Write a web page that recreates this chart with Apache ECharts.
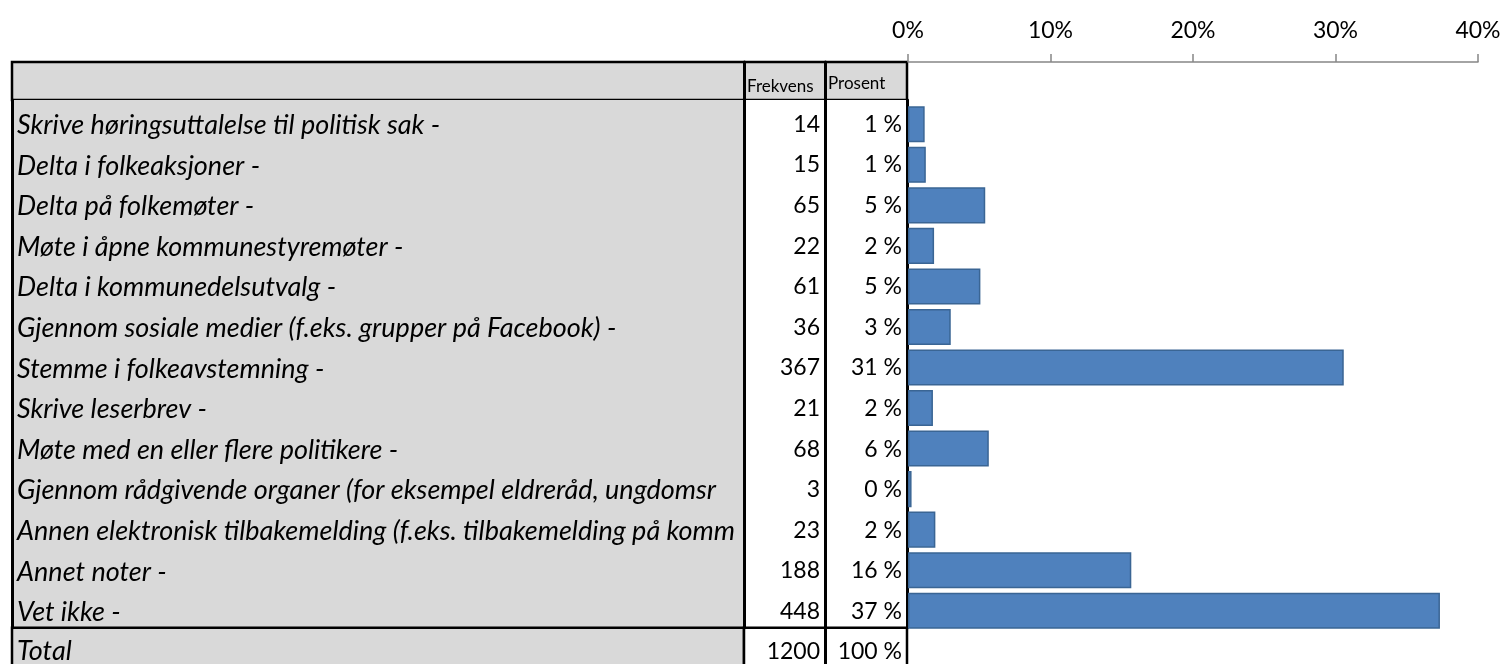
<!DOCTYPE html>
<html>
<head>
<meta charset="utf-8">
<script src="https://cdn.jsdelivr.net/npm/echarts@6/dist/echarts.min.js"></script>
<style>
  html, body { margin: 0; padding: 0; background: #ffffff; }
  #chart { width: 1504px; height: 664px; }
</style>
</head>
<body>
<div id="chart"></div>
<script>
// Survey answers: how respondents would take part in local decisions
const categories = [
  'Skrive høringsuttalelse til politisk sak -',
  'Delta i folkeaksjoner -',
  'Delta på folkemøter -',
  'Møte i åpne kommunestyremøter -',
  'Delta i kommunedelsutvalg -',
  'Gjennom sosiale medier (f.eks. grupper på Facebook) -',
  'Stemme i folkeavstemning -',
  'Skrive leserbrev -',
  'Møte med en eller flere politikere -',
  'Gjennom rådgivende organer (for eksempel eldreråd, ungdomsråd, brukerråd) -',
  'Annen elektronisk tilbakemelding (f.eks. tilbakemelding på kommunens nettside) -',
  'Annet noter -',
  'Vet ikke -'
];
const frequencies = [14, 15, 65, 22, 61, 36, 367, 21, 68, 3, 23, 188, 448];
const percents = [1.17, 1.25, 5.42, 1.83, 5.08, 3.00, 30.58, 1.75, 5.67, 0.25, 1.92, 15.67, 37.33];
const headerLabels = ['Frekvens', 'Prosent'];
const totalLabel = 'Total';
const totalFrequency = 1200;
const totalPercent = 100;
const axisMin = 0, axisMax = 40, axisStep = 10;

// Table geometry (column edges and row bands)
const TL = 12, C1 = 744, C2 = 825, C3 = 907;
const HEAD_TOP = 62, BODY_TOP = 100, ROW_H = 40.6;
const BODY_H = categories.length * ROW_H;
const TOTAL_TOP = BODY_TOP + BODY_H;

const FONT = 'Lato, "Open Sans", sans-serif';
const GREY = '#d9d9d9';
const LINE = '#000000';

const pctText = v => Math.round(v) + ' %';

function grid(left, top, width, height, extra) {
  return Object.assign({ left, top, width, height, outerBoundsMode: 'none', containLabel: false }, extra || {});
}
const hiddenX = i => ({ type: 'value', gridIndex: i, show: false, min: 0, max: 1 });

// an axis that only draws a black column rule
function ruleAxis(gridIndex, n, position, offset) {
  return {
    type: 'category', gridIndex, data: new Array(n).fill(''), position, offset,
    axisLine: { show: true, onZero: false, lineStyle: { color: LINE, width: 3 } },
    axisTick: { show: false }, splitLine: { show: false }, axisLabel: { show: false }
  };
}
// an axis that only draws the cell texts of one column
function textAxis(gridIndex, data, position, offset, label) {
  return {
    type: 'category', gridIndex, data, position, offset, inverse: true,
    axisLine: { show: false, onZero: false }, axisTick: { show: false }, splitLine: { show: false },
    axisLabel: Object.assign({ show: true, inside: true, color: '#000', fontFamily: FONT, interval: 0 }, label)
  };
}

const nameLabel = { fontSize: 27, fontStyle: 'italic', margin: 5,
                    width: C1 - TL - 8, overflow: 'truncate', ellipsis: '' };
const numLabel = { fontSize: 23, margin: 5 };
const headLabel = { fontSize: 17, margin: 3 };

const N = categories.length;

const option = {
  backgroundColor: '#ffffff',
  animation: false,
  grid: [
    /* 0 */ grid(TL, HEAD_TOP, C3 - TL, BODY_TOP - HEAD_TOP, { show: true, backgroundColor: GREY, borderColor: LINE, borderWidth: 2.5 }),
    /* 1 */ grid(TL, BODY_TOP, C1 - TL, BODY_H, { show: true, backgroundColor: GREY, borderWidth: 0 }),
    /* 2 */ grid(C1, BODY_TOP, C3 - C1, BODY_H, { show: true, backgroundColor: '#ffffff', borderWidth: 0 }),
    /* 3 */ grid(TL, TOTAL_TOP, C1 - TL, 60, { show: true, backgroundColor: GREY, borderColor: LINE, borderWidth: 2.5 }),
    /* 4 */ grid(C1, TOTAL_TOP, C3 - C1, 60, { show: true, backgroundColor: '#ffffff', borderColor: LINE, borderWidth: 2.5 }),
    /* 5 */ grid(908, 104, 570, 527),
    // text layers, set a little low in their rows
    /* 6 */ grid(TL, HEAD_TOP + 6, C3 - TL, BODY_TOP - HEAD_TOP),
    /* 7 */ grid(TL, HEAD_TOP + 3, C3 - TL, BODY_TOP - HEAD_TOP),
    /* 8 */ grid(TL, BODY_TOP + 5, C1 - TL, BODY_H),
    /* 9 */ grid(TL, BODY_TOP + 4, C3 - TL, BODY_H),
    /* 10 */ grid(TL, TOTAL_TOP + 3, C3 - TL, ROW_H)
  ],
  xAxis: [
    hiddenX(0), hiddenX(1), hiddenX(2), hiddenX(3), hiddenX(4),
    {
      type: 'value', gridIndex: 5, position: 'top', offset: 42,
      min: axisMin, max: axisMax, interval: axisStep,
      axisLine: { show: true, lineStyle: { color: '#868686', width: 1.5 } },
      axisTick: { show: true, length: 8, lineStyle: { color: '#868686', width: 1.5 } },
      splitLine: { show: false },
      axisLabel: { formatter: '{value}%', color: '#000', fontFamily: FONT, fontSize: 23, margin: 20 }
    },
    hiddenX(6), hiddenX(7), hiddenX(8), hiddenX(9), hiddenX(10)
  ],
  yAxis: [
    // bar axis
    { type: 'category', gridIndex: 5, data: categories, inverse: true, show: false },
    // column rules
    ruleAxis(0, 1, 'left', -(C1 - TL)),
    ruleAxis(0, 1, 'left', -(C2 - TL)),
    ruleAxis(1, N, 'left', 0),
    ruleAxis(2, N, 'left', 0),
    ruleAxis(2, N, 'right', -(C3 - C2)),
    ruleAxis(2, N, 'right', 0),
    ruleAxis(4, 1, 'right', -(C3 - C2)),
    // cell texts
    textAxis(6, [headerLabels[0]], 'left', -(C1 - TL), headLabel),
    textAxis(7, [headerLabels[1]], 'left', -(C2 - TL), headLabel),
    textAxis(8, categories, 'left', 0, nameLabel),
    textAxis(9, frequencies.map(String), 'right', -(C3 - C2), numLabel),
    textAxis(9, percents.map(pctText), 'right', 0, numLabel),
    textAxis(10, [totalLabel], 'left', 0, nameLabel),
    textAxis(10, [String(totalFrequency)], 'right', -(C3 - C2), numLabel),
    textAxis(10, [totalPercent + ' %'], 'right', 0, numLabel)
  ],
  series: [{
    type: 'bar',
    xAxisIndex: 5,
    yAxisIndex: 0,
    data: percents,
    barCategoryGap: '11%',
    itemStyle: { color: '#4f81bd', borderColor: '#3a6594', borderWidth: 1.5 }
  }]
};

const chart = echarts.init(document.getElementById('chart'), null, { renderer: 'canvas' });
chart.setOption(option);
</script>
</body>
</html>
